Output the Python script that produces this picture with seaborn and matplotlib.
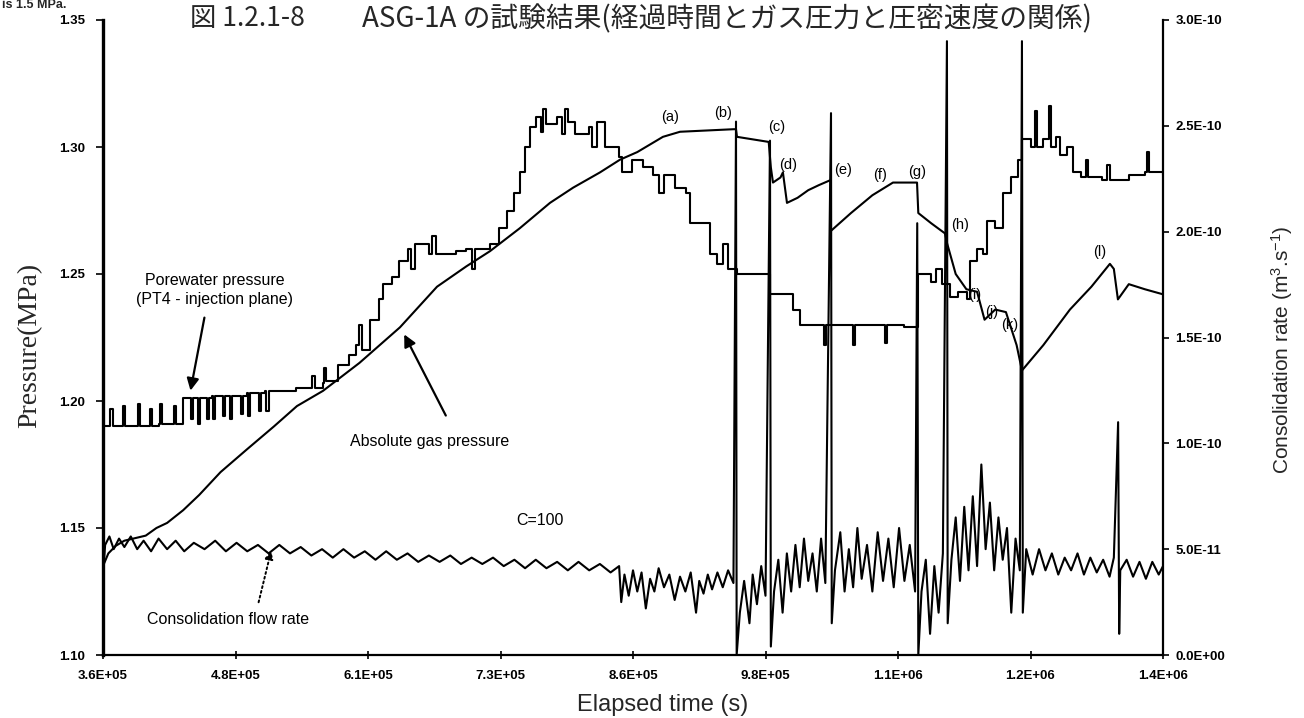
import matplotlib
matplotlib.use("Agg")
import matplotlib.pyplot as plt
import pandas as pd
import seaborn as sns
from matplotlib.ticker import FixedLocator, FixedFormatter

sns.set_theme(style="ticks")
plt.rcParams["font.family"] = ["Liberation Sans", "Noto Sans CJK JP", "DejaVu Sans"]
plt.rcParams["mathtext.fontset"] = "custom"
plt.rcParams["mathtext.rm"] = "Liberation Sans"
plt.rcParams["mathtext.it"] = "Liberation Sans"

# ---------------- data ----------------
x_tick_values = [360000, 484000, 608000, 732000, 856000, 980000, 1104000, 1228000, 1352000]
x_tick_labels = ["3.6E+05", "4.8E+05", "6.1E+05", "7.3E+05", "8.6E+05", "9.8E+05",
                 "1.1E+06", "1.2E+06", "1.4E+06"]
left_tick_values = [1.10, 1.15, 1.20, 1.25, 1.30, 1.35]
left_tick_labels = ["1.10", "1.15", "1.20", "1.25", "1.30", "1.35"]
right_tick_values = [0.0, 5e-11, 1e-10, 1.5e-10, 2e-10, 2.5e-10, 3e-10]
right_tick_labels = ["0.0E+00", "5.0E-11", "1.0E-10", "1.5E-10", "2.0E-10", "2.5E-10", "3.0E-10"]

# porewater pressure (MPa), time (s)
porewater = [
    (360000, 1.190), (366000, 1.190), (367000, 1.197), (369000, 1.190), (378000, 1.190),
    (379000, 1.198), (381000, 1.190), (392000, 1.190), (393000, 1.199), (395000, 1.190),
    (403000, 1.190), (404000, 1.197), (406000, 1.190), (412000, 1.191), (413000, 1.199),
    (415000, 1.191), (425000, 1.191), (426000, 1.198), (428000, 1.191),
    (432000, 1.191), (435000, 1.201), (441000, 1.201), (442000, 1.193), (444000, 1.201),
    (448000, 1.201), (449000, 1.191), (451000, 1.201), (456000, 1.201), (457000, 1.193),
    (459000, 1.201),
    (462000, 1.202), (463000, 1.193), (465000, 1.202), (471000, 1.202), (472000, 1.194),
    (474000, 1.202), (478000, 1.202), (479000, 1.193),
    (481000, 1.202), (488000, 1.202), (489000, 1.195), (491000, 1.202), (495000, 1.203),
    (496000, 1.194), (498000, 1.203), (505000, 1.203), (506000, 1.196), (508000, 1.203),
    (512000, 1.204), (513000, 1.196), (515000, 1.204), (530000, 1.204), (541000, 1.205),
    (555000, 1.205), (556000, 1.210), (558000, 1.205), (566000, 1.207), (567000, 1.213),
    (569000, 1.208), (580000, 1.214), (590000, 1.218), (597000, 1.222), (600000, 1.230),
    (602000, 1.220), (610000, 1.232), (618000, 1.240), (622000, 1.246), (630000, 1.249),
    (637000, 1.255), (645000, 1.260), (648000, 1.252), (652000, 1.262), (665000, 1.258),
    (668000, 1.265), (672000, 1.258), (690000, 1.259), (700000, 1.260), (705000, 1.252),
    (708000, 1.260), (722000, 1.262), (731000, 1.268), (738000, 1.275), (745000, 1.282),
    (750000, 1.290), (755000, 1.300), (760000, 1.308), (765000, 1.312), (770000, 1.306),
    (772000, 1.315), (775000, 1.309), (785000, 1.312), (790000, 1.305), (792000, 1.315),
    (795000, 1.310), (802000, 1.305), (815000, 1.308), (818000, 1.300), (822000, 1.310),
    (830000, 1.300), (843000, 1.296), (846000, 1.290), (855000, 1.295), (865000, 1.292),
    (875000, 1.289), (880000, 1.282), (885000, 1.289), (895000, 1.284), (906000, 1.282),
    (909000, 1.270), (925000, 1.270), (928000, 1.258), (935000, 1.254), (940000, 1.262),
    (945000, 1.252), (953300, 1.250), (981400, 1.250), (984200, 1.242), (1005700, 1.236),
    (1012000, 1.230), (1030000, 1.230), (1035000, 1.222), (1037000, 1.230), (1060000, 1.230),
    (1062000, 1.222), (1064000, 1.230), (1090000, 1.230), (1092000, 1.223), (1094000, 1.230),
    (1110000, 1.229), (1122700, 1.250), (1135000, 1.247), (1140000, 1.252), (1145000, 1.246),
    (1152600, 1.241), (1160000, 1.243), (1168500, 1.240), (1171300, 1.255), (1178000, 1.260),
    (1183500, 1.258), (1187200, 1.271), (1195000, 1.268), (1202200, 1.282), (1210000, 1.288),
    (1216000, 1.295), (1220000, 1.303), (1228000, 1.300), (1232000, 1.314), (1234000, 1.300),
    (1240000, 1.303), (1245000, 1.316), (1247000, 1.300), (1252000, 1.304), (1256000, 1.297),
    (1262000, 1.300), (1267700, 1.290), (1275000, 1.288), (1280000, 1.295), (1282000, 1.288),
    (1295000, 1.287), (1300000, 1.293), (1302000, 1.287), (1320000, 1.289), (1335000, 1.290),
    (1337000, 1.298), (1339000, 1.290), (1352000, 1.289),
]

# absolute gas pressure (MPa)
gas = [
    (360000, 1.135), (365000, 1.140), (372000, 1.143), (380000, 1.145), (390000, 1.146),
    (400000, 1.147), (410000, 1.150), (420000, 1.152), (435000, 1.157), (450000, 1.163),
    (470000, 1.172), (494800, 1.181), (520000, 1.190), (541500, 1.198), (565900, 1.204),
    (600000, 1.215), (637900, 1.229), (672600, 1.245), (700000, 1.253), (722200, 1.259),
    (750000, 1.268), (778300, 1.278), (800000, 1.284), (825100, 1.290), (843800, 1.295),
    (860000, 1.298), (884000, 1.304), (900000, 1.306), (950000, 1.307), (952400, 1.307),
    (953300, 1.304), (983000, 1.302), (985000, 1.292), (987000, 1.286), (994000, 1.288),
    (996300, 1.290), (1000100, 1.278), (1010000, 1.280), (1020000, 1.283), (1030000, 1.285),
    (1041000, 1.287), (1041300, 1.267), (1060000, 1.274), (1080000, 1.281), (1099300, 1.286),
    (1121800, 1.286), (1123000, 1.274), (1135000, 1.270), (1147900, 1.266), (1150000, 1.262),
    (1158000, 1.250), (1168000, 1.244), (1178000, 1.243), (1185000, 1.232), (1195000, 1.236),
    (1205000, 1.235), (1215000, 1.222), (1220000, 1.212), (1240000, 1.222), (1264900, 1.236),
    (1285000, 1.245), (1302300, 1.254), (1306000, 1.252), (1309800, 1.240), (1320000, 1.246),
    (1335000, 1.244), (1352000, 1.242),
]

# consolidation flow rate, in units of 1e-11 m3/s
flow_rate = [
    (360000, 3.8), (362000, 5.2), (366000, 5.6), (370000, 5.0), (375000, 5.5), (380000, 5.1),
    (386000, 5.6), (392000, 5.0), (398000, 5.4), (405000, 4.9), (412000, 5.5), (420000, 5.0),
    (428000, 5.4), (436000, 4.9), (445000, 5.3), (455000, 5.0), (465000, 5.4), (475000, 4.9),
    (485000, 5.3), (495000, 4.9), (505000, 5.2), (515000, 4.8), (525000, 5.2), (535000, 4.8),
    (545000, 5.1), (555000, 4.7), (565000, 5.0), (575000, 4.6), (585000, 5.0), (595000, 4.6),
    (605000, 4.9), (615000, 4.5), (625000, 4.9), (635000, 4.5), (645000, 4.8), (655000, 4.4),
    (665000, 4.7), (675000, 4.4), (685000, 4.7), (695000, 4.3), (705000, 4.6), (715000, 4.3),
    (725000, 4.6), (735000, 4.2), (745000, 4.5), (755000, 4.1), (765000, 4.5), (775000, 4.1),
    (785000, 4.4), (795000, 4.0), (805000, 4.4), (815000, 4.0), (825000, 4.3), (835000, 3.9),
    (843000, 4.2), (845000, 2.5), (848000, 3.8), (852000, 2.8), (856000, 4.0), (860000, 3.0),
    (864000, 3.9), (868000, 2.2), (872000, 3.6), (876000, 3.0), (880000, 4.1), (885000, 3.2),
    (890000, 3.8), (895000, 2.6), (900000, 3.7), (905000, 3.0), (910000, 3.9), (915000, 2.0),
    (918000, 3.5), (922000, 2.9), (926000, 3.8), (930000, 3.1), (935000, 3.9), (940000, 3.2),
    (945000, 4.0), (950000, 3.4), (952400, 25.2), (953000, 0.0), (956000, 2.0), (960000, 3.5),
    (965000, 1.5), (968000, 3.8), (972000, 2.4), (976000, 4.2), (980000, 2.8), (984200, 24.3),
    (985000, 0.4), (988000, 3.0), (992000, 4.5), (996000, 2.0), (1000000, 4.8), (1004000, 3.0),
    (1008000, 5.2), (1012000, 3.2), (1016000, 5.5), (1020000, 3.5), (1024000, 4.8),
    (1028000, 3.0), (1032000, 5.5), (1036000, 3.4), (1041300, 25.6), (1042000, 1.5),
    (1045000, 4.0), (1050000, 5.8), (1054000, 3.0), (1058000, 5.0), (1062000, 3.2),
    (1066000, 6.0), (1070000, 3.6), (1075000, 5.2), (1080000, 3.0), (1085000, 5.8),
    (1090000, 3.5), (1095000, 5.5), (1100000, 3.2), (1105000, 6.0), (1110000, 3.5),
    (1115000, 5.2), (1120000, 3.0), (1122000, 20.4), (1123000, 0.0), (1126000, 3.0),
    (1130000, 4.5), (1134000, 1.0), (1138000, 4.2), (1142000, 2.0), (1146000, 4.8),
    (1149800, 29.0), (1150500, 1.5), (1154000, 4.5), (1158000, 6.5), (1162000, 3.5),
    (1166000, 7.0), (1170000, 4.0), (1174000, 7.5), (1178000, 4.2), (1182000, 9.0),
    (1186000, 5.0), (1190000, 7.2), (1194000, 4.0), (1198000, 6.5), (1202000, 4.5),
    (1206000, 6.0), (1210000, 2.0), (1214000, 5.5), (1218000, 4.0), (1220000, 29.0),
    (1220800, 2.0), (1224000, 5.0), (1230000, 3.8), (1236000, 5.0), (1242000, 4.0),
    (1248000, 4.8), (1254000, 3.8), (1260000, 4.6), (1266000, 4.0), (1272000, 4.8),
    (1278000, 3.8), (1284000, 4.6), (1290000, 3.9), (1296000, 4.5), (1302000, 3.7),
    (1306000, 4.6), (1310000, 11.0), (1311000, 1.0), (1312000, 4.0), (1318000, 4.5),
    (1324000, 3.7), (1330000, 4.4), (1336000, 3.6), (1342000, 4.4), (1348000, 3.8),
    (1352000, 4.2),
]

# point labels (a)..(l): (text, time, pressure)
point_labels = [
    ("(a)", 890600, 1.3118), ("(b)", 940200, 1.3134), ("(c)", 990700, 1.3079),
    ("(d)", 1001000, 1.2929), ("(e)", 1052500, 1.2910), ("(f)", 1087100, 1.2890),
    ("(g)", 1121700, 1.2902), ("(h)", 1162000, 1.2693), ("(i)", 1176000, 1.2417),
    ("(j)", 1192000, 1.2350), ("(k)", 1208700, 1.2300), ("(l)", 1293000, 1.2587),
]

pw_df = pd.DataFrame(porewater, columns=["time", "pressure"])
gas_df = pd.DataFrame(gas, columns=["time", "pressure"])
rate_df = pd.DataFrame(flow_rate, columns=["time", "rate"])
rate_df["rate"] = rate_df["rate"] * 1e-11

# ---------------- figure ----------------
W, H = 1304, 718
fig = plt.figure(figsize=(W / 100, H / 100), dpi=100)
left, right, top, bottom = 103, 1163, 20, 655
ax = fig.add_axes([left / W, 1 - bottom / H, (right - left) / W, (bottom - top) / H])
ax.set_facecolor("white")

sns.lineplot(data=pw_df, x="time", y="pressure", ax=ax, color="black", lw=1.5,
             drawstyle="steps-post", estimator=None, sort=False)
sns.lineplot(data=gas_df, x="time", y="pressure", ax=ax, color="black", lw=1.5,
             estimator=None, sort=False)

ax2 = ax.twinx()
sns.lineplot(data=rate_df, x="time", y="rate", ax=ax2, color="black", lw=1.5,
             estimator=None, sort=False)

ax.set_xlim(360000, 1352000)
ax.set_ylim(1.10, 1.35)
ax2.set_ylim(0, 3e-10)

tick_font = dict(family="Liberation Sans", weight="bold", size=9.5)
ax.xaxis.set_major_locator(FixedLocator(x_tick_values))
ax.xaxis.set_major_formatter(FixedFormatter(x_tick_labels))
ax.yaxis.set_major_locator(FixedLocator(left_tick_values))
ax.yaxis.set_major_formatter(FixedFormatter(left_tick_labels))
ax2.yaxis.set_major_locator(FixedLocator(right_tick_values))
ax2.yaxis.set_major_formatter(FixedFormatter(right_tick_labels))
for lab in ax.get_xticklabels() + ax.get_yticklabels() + ax2.get_yticklabels():
    lab.set_fontproperties(tick_font)

ax.tick_params(axis="x", direction="inout", length=6, width=1.2, pad=8, colors="black")
ax.tick_params(axis="y", direction="out", length=5, width=1.2, pad=8, colors="black")
ax2.tick_params(axis="y", direction="out", length=4, width=1.2, pad=5, colors="black")

for a in (ax, ax2):
    a.spines["top"].set_visible(False)
    for s in a.spines.values():
        s.set_color("black")
ax.spines["right"].set_visible(False)
ax2.spines["left"].set_visible(False)
ax2.spines["bottom"].set_visible(False)
ax.spines["left"].set_linewidth(2.4)
ax.spines["bottom"].set_linewidth(1.6)
ax2.spines["right"].set_linewidth(1.6)

ax.set_xlabel("")
ax.set_ylabel("")
ax2.set_ylabel("")

# axis titles
fig.text(30 / W, 1 - 345 / H, "Pressure(MPa)", rotation=90, ha="center", va="center",
         family="Liberation Serif", fontsize=20)
fig.text(1282 / W, 1 - 350 / H, "Consolidation rate (m$^{3}$.s$^{-1}$)", rotation=90,
         ha="center", va="center", fontsize=15)
fig.text(663 / W, 1 - 705 / H, "Elapsed time (s)", ha="center", va="center", fontsize=17)

# title
fig.text(190 / W, 1 - 19 / H, "図 1.2.1-8", ha="left", va="center",
         family=["Noto Sans CJK JP", "DejaVu Sans"], fontsize=19)
fig.text(362 / W, 1 - 19 / H, "ASG-1A の試験結果(経過時間とガス圧力と圧密速度の関係)",
         ha="left", va="center", family=["Noto Sans CJK JP", "DejaVu Sans"], fontsize=20)
fig.text(2 / W, 1 - 5 / H, "is 1.5 MPa.", ha="left", va="center", fontsize=9, weight="bold")

# annotations
ann_font = dict(fontsize=11.5, color="black")
ax.text(464800, 1.2437, "Porewater pressure\n(PT4 - injection plane)", ha="center",
        va="center", linespacing=1.3, **ann_font)
ax.annotate("", xy=(441400, 1.2030), xytext=(455400, 1.2339),
            arrowprops=dict(arrowstyle="-|>", color="black", lw=1.6, mutation_scale=18))
ax.text(666000, 1.1839, "Absolute gas pressure", ha="center", va="center", **ann_font)
ax.annotate("", xy=(640700, 1.2272), xytext=(682000, 1.1933),
            arrowprops=dict(arrowstyle="-|>", color="black", lw=1.6, mutation_scale=18))
ax.text(401200, 1.1138, "Consolidation flow rate", ha="left", va="center", **ann_font)
ax.annotate("", xy=(518000, 1.1421), xytext=(505000, 1.1197),
            arrowprops=dict(arrowstyle="-|>", color="black", lw=1.4, ls=(0, (1, 1.5)),
                            mutation_scale=12))
ax.text(769000, 1.1530, "C=100", ha="center", va="center", **ann_font)

for txt, tx, ty in point_labels:
    ax.text(tx, ty, txt, ha="center", va="center", fontsize=10.5, color="black")

fig.savefig("out.png", dpi=100, facecolor="white")
